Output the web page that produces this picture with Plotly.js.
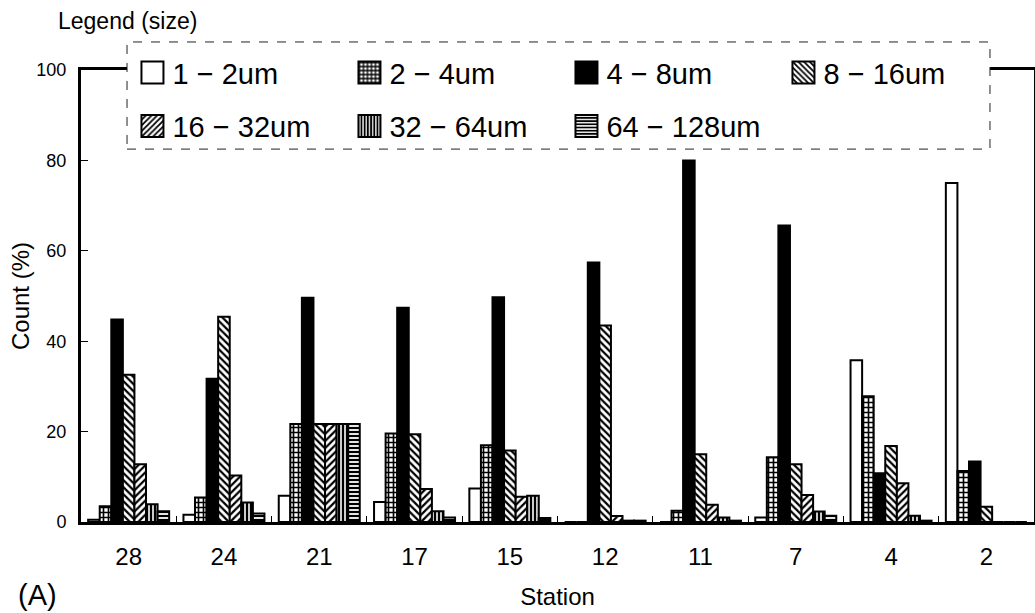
<!DOCTYPE html>
<html>
<head>
<meta charset="utf-8">
<script src="https://cdn.plot.ly/plotly-3.0.1.min.js"></script>
<style>
  html, body { margin: 0; padding: 0; background: #fff; }
  #chart { width: 1035px; height: 613px; }
</style>
</head>
<body>
<div id="chart"></div>
<script>
// ---- data ----
const stations = ['28', '24', '21', '17', '15', '12', '11', '7', '4', '2'];
const sizeNames = ['1 − 2um', '2 − 4um', '4 − 8um', '8 − 16um', '16 − 32um', '32 − 64um', '64 − 128um'];
const size1_2    = [0.5, 1.6, 5.8, 4.4, 7.4, 0, 0, 1.0, 35.8, 75.0];
const size2_4    = [3.5, 5.4, 21.7, 19.6, 17.0, 0, 2.5, 14.3, 27.8, 11.3];
const size4_8    = [44.8, 31.7, 49.6, 47.4, 49.7, 57.4, 80.0, 65.6, 10.8, 13.4];
const size8_16   = [32.6, 45.4, 21.7, 19.4, 15.8, 43.5, 15.0, 12.8, 16.8, 3.4];
const size16_32  = [12.8, 10.3, 21.7, 7.3, 5.6, 1.3, 3.8, 6.0, 8.6, 0];
const size32_64  = [3.9, 4.3, 21.7, 2.4, 5.8, 0.3, 1.0, 2.3, 1.4, 0];
const size64_128 = [2.4, 1.9, 21.7, 1.0, 0.9, 0.3, 0.3, 1.4, 0.3, 0];

const seriesValues = [size1_2, size2_4, size4_8, size8_16, size16_32, size32_64, size64_128];

// ---- styles ----
const FONT = 'Liberation Sans, Arial, sans-serif';
const patterns = [
  null,
  {shape: '+', fgcolor: 'black', bgcolor: 'white', size: 5, solidity: 0.55},
  null,
  {shape: '\\', fgcolor: 'black', bgcolor: 'white', size: 5, solidity: 0.45},
  {shape: '/', fgcolor: 'black', bgcolor: 'white', size: 5, solidity: 0.45},
  {shape: '|', fgcolor: 'black', bgcolor: 'white', size: 4, solidity: 0.6},
  {shape: '-', fgcolor: 'black', bgcolor: 'white', size: 4, solidity: 0.55}
];
const fillColors = ['white', 'white', 'black', 'white', 'white', 'white', 'white'];
const legendIds = ['legend', 'legend', 'legend', 'legend', 'legend2', 'legend2', 'legend2'];

const traces = seriesValues.map((vals, i) => {
  const marker = {color: fillColors[i], line: {color: 'black', width: 2}};
  if (patterns[i]) marker.pattern = patterns[i];
  return {
    type: 'bar',
    name: sizeNames[i],
    x: stations,
    y: vals,
    marker: marker,
    legend: legendIds[i],
    hoverinfo: 'x+y+name'
  };
});

const legendCommon = {
  orientation: 'h',
  xanchor: 'left',
  yanchor: 'middle',
  bgcolor: 'rgba(0,0,0,0)',
  borderwidth: 0,
  font: {family: FONT, size: 29, color: 'black'},
  entrywidth: 172,
  entrywidthmode: 'pixels',
  traceorder: 'normal'
};

const layout = {
  width: 1035,
  height: 613,
  margin: {l: 81, r: 1, t: 70, b: 91},
  paper_bgcolor: 'white',
  plot_bgcolor: 'white',
  font: {family: FONT, color: 'black'},
  barmode: 'group',
  bargap: 0.15,
  bargroupgap: 0,
  showlegend: true,
  legend: Object.assign({}, legendCommon, {x: 0.054, y: 0.994}),
  legend2: Object.assign({}, legendCommon, {x: 0.054, y: 0.876}),
  xaxis: {
    type: 'category',
    range: [-0.5, 9.5],
    showline: true, linewidth: 3, linecolor: 'black', mirror: true,
    ticks: 'inside', tickson: 'boundaries', ticklen: 6, tickwidth: 1, tickcolor: 'black',
    tickfont: {family: FONT, size: 24, color: 'black'},
    ticklabelstandoff: 11,
    showgrid: false, zeroline: false,
    title: {text: 'Station', font: {family: FONT, size: 24, color: 'black'}, standoff: 20}
  },
  yaxis: {
    range: [0, 100],
    tick0: 0, dtick: 20,
    showline: true, linewidth: 3, linecolor: 'black', mirror: true,
    ticks: 'inside', ticklen: 7, tickwidth: 1, tickcolor: 'black',
    tickfont: {family: FONT, size: 18, color: 'black'},
    ticklabelstandoff: 8,
    showgrid: false, zeroline: false,
    title: {text: 'Count (%)', font: {family: FONT, size: 24, color: 'black'}, standoff: 0}
  },
  shapes: [{
    type: 'rect', xref: 'paper', yref: 'paper',
    x0: 0.0483, x1: 0.9538, y0: 0.825, y1: 1.062,
    line: {color: '#222', width: 1, dash: 'dash'},
    fillcolor: 'white', layer: 'above'
  }],
  annotations: [
    {text: 'Legend (size)', xref: 'paper', yref: 'paper', x: -0.0262, y: 1.108,
     xanchor: 'left', yanchor: 'middle', showarrow: false,
     font: {family: FONT, size: 23, color: 'black'}},
    {text: '(A)', xref: 'paper', yref: 'paper', x: -0.068, y: -0.1615,
     xanchor: 'left', yanchor: 'middle', showarrow: false,
     font: {family: FONT, size: 29, color: 'black'}}
  ]
};

Plotly.newPlot('chart', traces, layout, {displayModeBar: false, staticPlot: true}).then(() => {
  // enlarge legend swatches to match the reference's large boxes
  document.querySelectorAll('.legendpoints path').forEach(p => {
    p.setAttribute('d', 'M11,11H-11V-11H11Z');
  });
});
</script>
</body>
</html>
